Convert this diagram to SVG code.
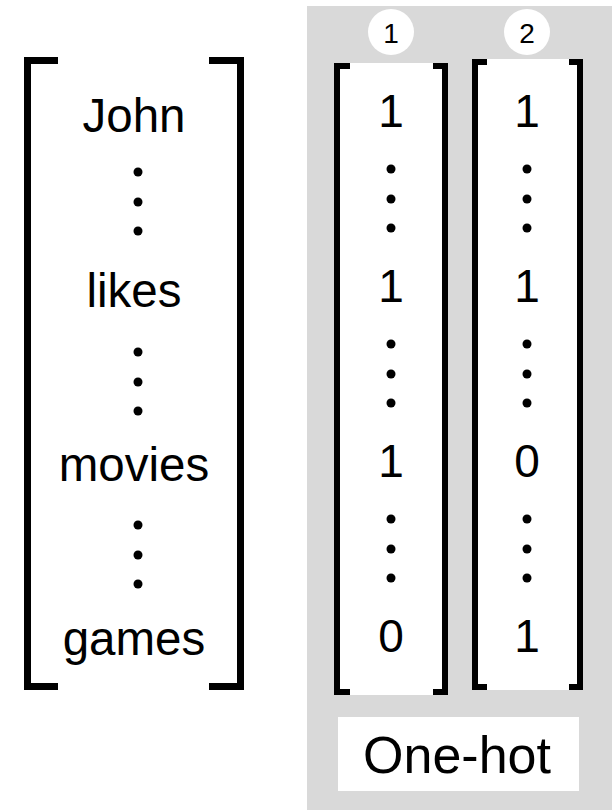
<svg xmlns="http://www.w3.org/2000/svg" width="612" height="810" viewBox="0 0 612 810">
<style>
.t{font-family:"Liberation Sans",Arial,sans-serif;fill:#000;text-anchor:middle}
.big{font-size:47.5px}
.dig{font-size:46px}
.num{font-size:28px}
.br{fill:none;stroke:#000;stroke-width:7;stroke-linecap:butt;stroke-linejoin:miter}
.br6{fill:none;stroke:#000;stroke-width:6;stroke-linecap:butt;stroke-linejoin:miter}
</style>
<defs>
<g id="dots"><circle cx="0" cy="0" r="4.5"/><circle cx="0" cy="30" r="4.5"/><circle cx="0" cy="59" r="4.5"/></g>
</defs>
<rect x="0" y="0" width="612" height="810" fill="#fff"/>
<g id="words">
<path class="br" d="M58,60.5 H27.5 V686.5 H58"/>
<path class="br" d="M209,60.5 H240.5 V686.5 H209"/>
<text class="t big" x="134" y="132">John</text>
<use href="#dots" x="138" y="172"/>
<text class="t big" x="134" y="307">likes</text>
<use href="#dots" x="138" y="352"/>
<text class="t big" x="134" y="481">movies</text>
<use href="#dots" x="138" y="525"/>
<text class="t big" x="134" y="655">games</text>
</g>
<g id="panel">
<rect x="307" y="6" width="305" height="804" fill="#d9d9d9"/>
</g>
<g id="vec1">
<circle cx="391" cy="32" r="23" fill="#fff"/>
<text class="t num" x="391" y="43">1</text>
<rect x="334" y="63" width="114" height="632" fill="#fff"/>
<path class="br6" d="M350,66 H337 V692 H350"/>
<path class="br6" d="M433,66 H445 V692 H433"/>
<text class="t dig" x="391" y="127">1</text>
<use href="#dots" x="391" y="169"/>
<text class="t dig" x="391" y="302">1</text>
<use href="#dots" x="391" y="344"/>
<text class="t dig" x="391" y="477">1</text>
<use href="#dots" x="391" y="519"/>
<text class="t dig" x="391" y="652">0</text>
</g>
<g id="vec2">
<circle cx="527" cy="32" r="23" fill="#fff"/>
<text class="t num" x="527" y="43">2</text>
<rect x="472" y="59" width="111" height="631" fill="#fff"/>
<path class="br6" d="M487,62 H475 V687 H487"/>
<path class="br6" d="M569,62 H580 V687 H569"/>
<text class="t dig" x="527" y="127">1</text>
<use href="#dots" x="527" y="169"/>
<text class="t dig" x="527" y="302">1</text>
<use href="#dots" x="527" y="344"/>
<text class="t dig" x="527" y="477">0</text>
<use href="#dots" x="527" y="519"/>
<text class="t dig" x="527" y="652">1</text>
</g>
<g id="label">
<rect x="338" y="717" width="241" height="74" fill="#fff"/>
<text class="t" style="font-size:52px" x="457" y="773">One-hot</text>
</g>
<g id="connectors"></g>
</svg>
